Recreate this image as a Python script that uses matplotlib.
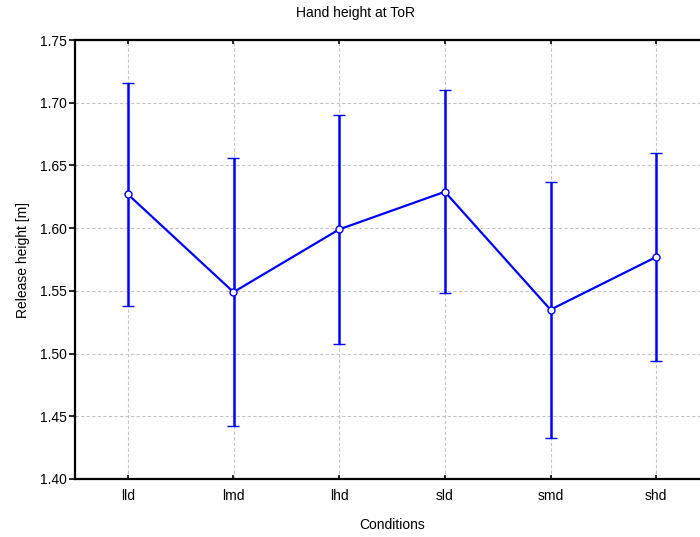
import numpy as np
import matplotlib
matplotlib.use("Agg")
import matplotlib.pyplot as plt

plt.rcParams['font.family'] = ['Liberation Sans', 'DejaVu Sans']

# data: mean release height and half-width of error bar
conditions = ["lld", "lmd", "lhd", "sld", "smd", "shd"]
means = [1.627, 1.549, 1.599, 1.629, 1.535, 1.577]
errs = [0.089, 0.107, 0.091, 0.081, 0.102, 0.083]

fig = plt.figure(figsize=(7.0, 5.37), dpi=100)
# right edge of the plot box runs past the image edge in the original
ax = fig.add_axes([75/700, 58/537, 634/700, 439/537])

x = np.arange(len(conditions))
ax.errorbar(x, means, yerr=errs, color="#0000ff", lw=1.6, elinewidth=1.8,
            capsize=4.5, capthick=1.8, marker="o", ms=5, mfc="white",
            mec="#0000ff", mew=1.0, zorder=3)

ax.set_xlim(-0.5, len(conditions) - 0.5)
ax.set_ylim(1.40, 1.75)
ax.set_xticks(x)
ax.set_xticklabels(conditions)
ax.set_yticks(np.arange(1.40, 1.751, 0.05))
ax.set_yticklabels([f"{v:.2f}" for v in np.arange(1.40, 1.751, 0.05)])

ax.grid(True, color="#c4c4c4", ls=(0, (3, 2)), lw=0.8)
ax.set_axisbelow(True)

for s in ax.spines.values():
    s.set_linewidth(1.6)
    s.set_color("black")

ax.tick_params(axis="y", direction="out", length=4, width=1.2, labelsize=10, pad=2)
ax.tick_params(axis="x", direction="in", length=3, width=1.2, labelsize=10,
               top=True, pad=7)

# title sits over the visible part of the figure, not the clipped axes
fig.text(355/700, 1 - 13/537, "Hand height at ToR", fontsize=10,
         ha="center", va="center")
ax.set_xlabel("Conditions", fontsize=10, labelpad=11)
ax.set_ylabel("Release height [m]", fontsize=10, labelpad=7)

fig.savefig("out.png", dpi=100)
